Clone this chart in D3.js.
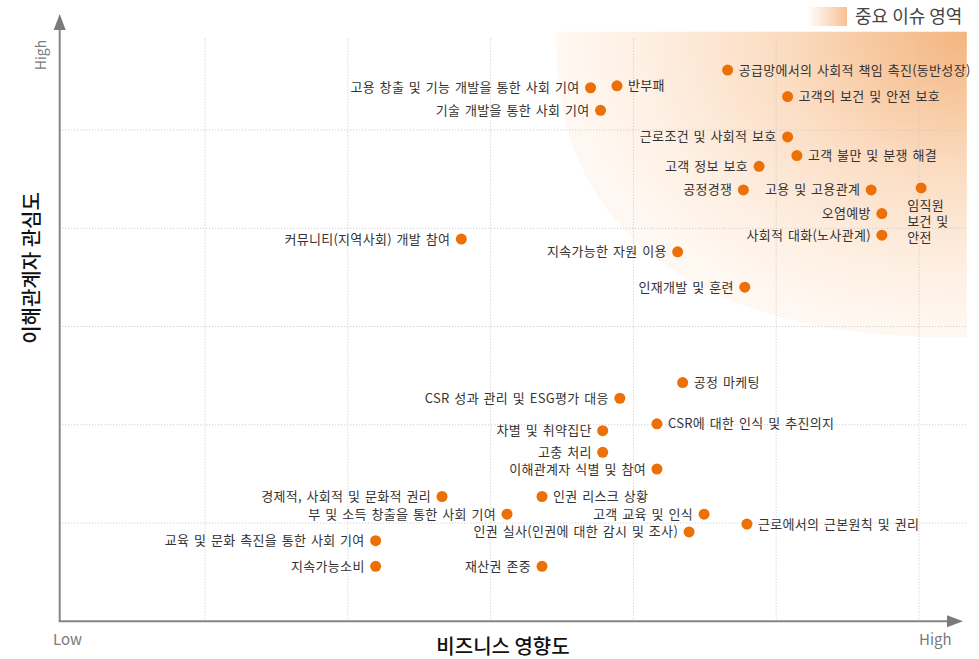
<!DOCTYPE html>
<html>
<head>
<meta charset="utf-8">
<script src="https://cdnjs.cloudflare.com/ajax/libs/d3/7.8.5/d3.min.js"></script>
<style>
  body { margin: 0; background: #fff; }
  text { font-family: "Noto Sans CJK KR", "Noto Sans", sans-serif; }
</style>
</head>
<body>
<svg id="chart" width="979" height="659"></svg>
<script>
// issue names, business impact (x) and stakeholder interest (y)
var issues = ["고용 창출 및 기능 개발을 통한 사회 기여", "반부패", "기술 개발을 통한 사회 기여",
  "공급망에서의 사회적 책임 촉진(동반성장)", "고객의 보건 및 안전 보호", "근로조건 및 사회적 보호",
  "고객 불만 및 분쟁 해결", "고객 정보 보호", "공정경쟁", "고용 및 고용관계", "임직원 보건 및 안전",
  "오염예방", "사회적 대화(노사관계)", "커뮤니티(지역사회) 개발 참여", "지속가능한 자원 이용",
  "인재개발 및 훈련", "공정 마케팅", "CSR 성과 관리 및 ESG평가 대응", "CSR에 대한 인식 및 추진의지",
  "차별 및 취약집단", "고충 처리", "이해관계자 식별 및 참여", "경제적, 사회적 및 문화적 권리",
  "인권 리스크 상황", "부 및 소득 창출을 통한 사회 기여", "고객 교육 및 인식", "근로에서의 근본원칙 및 권리",
  "인권 실사(인권에 대한 감시 및 조사)", "교육 및 문화 촉진을 통한 사회 기여", "지속가능소비", "재산권 존중"];

var impact = [3.70, 3.885, 3.77, 4.66, 5.08, 5.08, 5.145, 4.88, 4.77, 5.665, 6.015,
  5.74, 5.74, 2.795, 4.31, 4.78, 4.345, 3.905, 4.165, 3.785, 3.785, 4.165, 2.66,
  3.36, 3.115, 4.495, 4.795, 4.39, 2.195, 2.195, 3.36];

var interest = [5.43, 5.45, 5.20, 5.61, 5.34, 4.93, 4.74, 4.63, 4.39, 4.39, 4.41,
  4.15, 3.93, 3.89, 3.76, 3.40, 2.43, 2.27, 2.01, 1.94, 1.72, 1.55, 1.27,
  1.27, 1.09, 1.09, 0.99, 0.91, 0.82, 0.56, 0.56];

// where each label sits relative to its dot: l = left, r = right, b = below
var labelSide = ["l", "r", "l", "r", "r", "l", "r", "l", "l", "l", "b",
  "l", "l", "l", "l", "l", "r", "l", "r", "l", "l", "l", "l",
  "r", "l", "l", "r", "l", "l", "l", "l"];

var gridX = [1, 2, 3, 4, 5, 6];
var gridY = [1, 2, 3, 4, 5];

// important issue zone (data units): from x 3.46 to right edge, y 2.89 to top
var zone = {x0: 3.46, x1: 6.335, y0: 2.89, y1: 6.0};

var data = issues.map(function(d, i) {
  return {name: d, x: impact[i], y: interest[i], side: labelSide[i]};
});

var svg = d3.select("#chart");

var xScale = d3.scaleLinear().domain([0, 6]).range([62.2, 919]);
var yScale = d3.scaleLinear().domain([0, 5]).range([621.3, 130]);

var defs = svg.append("defs");

var zoneGrad = defs.append("radialGradient")
  .attr("id", "zoneGrad")
  .attr("cx", "100%").attr("cy", "0%").attr("r", "100%");
zoneGrad.append("stop").attr("offset", "0%").attr("stop-color", "#f4b47f");
zoneGrad.append("stop").attr("offset", "45%").attr("stop-color", "#fbdcc1");
zoneGrad.append("stop").attr("offset", "80%").attr("stop-color", "#fef0e4");
zoneGrad.append("stop").attr("offset", "100%").attr("stop-color", "#fff8f2");

var legendGrad = defs.append("linearGradient")
  .attr("id", "legendGrad")
  .attr("x1", "0%").attr("x2", "100%").attr("y1", "0%").attr("y2", "0%");
legendGrad.append("stop").attr("offset", "0%").attr("stop-color", "#ffffff");
legendGrad.append("stop").attr("offset", "100%").attr("stop-color", "#f7c193");

// zone shape: quarter super-ellipse anchored in the top-right corner
var zx0 = xScale(zone.x0), zx1 = xScale(zone.x1),
    zy0 = yScale(zone.y1), zy1 = yScale(zone.y0);
var ra = zx1 - zx0, rb = zy1 - zy0, pw = 2.4;
var curve = d3.range(0, 91, 2).map(function(deg) {
  var t = deg * Math.PI / 180;
  return [zx1 - ra * Math.pow(Math.cos(t), 2 / pw), zy0 + rb * Math.pow(Math.sin(t), 2 / pw)];
});
curve.push([zx1, zy0]);

svg.append("path")
  .attr("d", d3.line()(curve) + "Z")
  .attr("fill", "url(#zoneGrad)");

// dotted grid
svg.selectAll(".gx")
  .data(gridX)
  .enter().append("line")
  .attr("class", "gx")
  .attr("x1", function(d) { return xScale(d); })
  .attr("x2", function(d) { return xScale(d); })
  .attr("y1", yScale(5.93))
  .attr("y2", yScale(0))
  .attr("stroke", "#c6c6c6")
  .attr("stroke-dasharray", "1,2");

svg.selectAll(".gy")
  .data(gridY)
  .enter().append("line")
  .attr("class", "gy")
  .attr("x1", xScale(0))
  .attr("x2", xScale(6.33))
  .attr("y1", function(d) { return yScale(d); })
  .attr("y2", function(d) { return yScale(d); })
  .attr("stroke", "#c6c6c6")
  .attr("stroke-dasharray", "1,2");

// axes with arrow heads
var ax = xScale(0) - 2.5, ay = yScale(0);
svg.append("line")
  .attr("x1", ax).attr("x2", ax)
  .attr("y1", ay).attr("y2", 28)
  .attr("stroke", "#858585").attr("stroke-width", 2);
svg.append("path")
  .attr("d", "M" + ax + ",14 L" + (ax + 6) + ",30 L" + (ax - 6) + ",30 Z")
  .attr("fill", "#7a7a7a");

svg.append("line")
  .attr("x1", ax - 1).attr("x2", 950)
  .attr("y1", ay).attr("y2", ay)
  .attr("stroke", "#858585").attr("stroke-width", 2);
svg.append("path")
  .attr("d", "M963," + ay + " L947," + (ay - 6) + " L947," + (ay + 6) + " Z")
  .attr("fill", "#7a7a7a");

// axis end labels
svg.append("text")
  .attr("transform", "translate(46,55) rotate(-90)")
  .attr("text-anchor", "middle")
  .attr("font-size", "14px")
  .attr("fill", "#7a7a7a")
  .text("High");

svg.append("text")
  .attr("x", 53).attr("y", 645)
  .attr("font-size", "15px")
  .attr("fill", "#7a7a7a")
  .text("Low");

svg.append("text")
  .attr("x", 919).attr("y", 645)
  .attr("font-size", "15px")
  .attr("fill", "#7a7a7a")
  .text("High");

// axis titles
svg.append("text")
  .attr("transform", "translate(39,268) rotate(-90)")
  .attr("text-anchor", "middle")
  .attr("font-size", "20px")
  .attr("font-weight", "500")
  .attr("fill", "#111")
  .text("이해관계자 관심도");

svg.append("text")
  .attr("x", 503).attr("y", 654)
  .attr("text-anchor", "middle")
  .attr("font-size", "20px")
  .attr("font-weight", "500")
  .attr("fill", "#111")
  .text("비즈니스 영향도");

// legend
svg.append("rect")
  .attr("x", 807).attr("y", 7)
  .attr("width", 40).attr("height", 19)
  .attr("fill", "url(#legendGrad)");

svg.append("text")
  .attr("x", 855).attr("y", 23)
  .attr("font-size", "18px")
  .attr("fill", "#444")
  .text("중요 이슈 영역");

// dots
svg.selectAll(".dot")
  .data(data)
  .enter().append("circle")
  .attr("class", "dot")
  .attr("cx", function(d) { return xScale(d.x); })
  .attr("cy", function(d) { return yScale(d.y); })
  .attr("r", 5.5)
  .attr("fill", "#ed7006");

// labels
var labels = svg.selectAll(".lbl")
  .data(data)
  .enter().append("text")
  .attr("class", "lbl")
  .attr("font-size", "13px")
  .attr("letter-spacing", "0.3px")
  .attr("word-spacing", "1.5px")
  .attr("fill", "#333")
  .attr("x", function(d) {
    var cx = xScale(d.x);
    if (d.side === "l") return cx - 11;
    if (d.side === "r") return cx + 11;
    return cx - 14;
  })
  .attr("y", function(d) { return yScale(d.y); })
  .attr("dy", "0.35em")
  .attr("text-anchor", function(d) { return d.side === "l" ? "end" : "start"; });

labels.filter(function(d) { return d.side !== "b"; })
  .text(function(d) { return d.name; });

// the one label stacked under its dot
labels.filter(function(d) { return d.side === "b"; })
  .each(function(d) {
    var el = d3.select(this);
    var parts = ["임직원", "보건 및", "안전"];
    parts.forEach(function(p, i) {
      el.append("tspan")
        .attr("x", xScale(d.x) - 14)
        .attr("dy", i === 0 ? "1.7em" : "1.23em")
        .text(p);
    });
  });
</script>
</body>
</html>
